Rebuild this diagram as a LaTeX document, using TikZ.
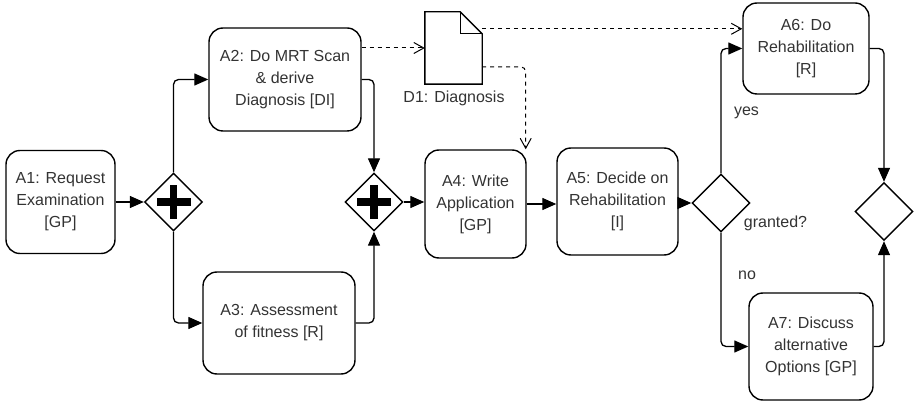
\documentclass[tikz,border=0pt]{standalone}
\usepackage{fontspec}
\setmainfont{Liberation Sans}
\usetikzlibrary{arrows.meta,shapes.geometric,calc}
\begin{document}
\begin{tikzpicture}[x=1pt,y=-1pt,
  task/.style={draw, line width=1.4pt, rounded corners=14pt, align=center, inner sep=0pt, text=black!80, font=\fontsize{16}{22}\selectfont},
  gw/.style={draw, diamond, line width=1.4pt, minimum width=58pt, minimum height=58pt, inner sep=0pt, aspect=1},
  flow/.style={line width=1.3pt, rounded corners=5pt, -{Triangle[length=14pt,width=12pt]}},
  assoc/.style={line width=1pt, dash pattern=on 4pt off 4pt, rounded corners=5pt, -{Straight Barb[length=10pt,width=11pt]}},
  lbl/.style={text=black!80, font=\fontsize{16}{20}\selectfont, inner sep=0pt},
  docline/.style={line width=1.4pt}
]
\useasboundingbox (0,0) rectangle (916,403);

% tasks
\node[task, minimum width=109pt, minimum height=103pt] (A1) at (60.5,202) {A1: Request\\Examination\\{[GP]}};
\node[task, minimum width=152pt, minimum height=103pt] (A2) at (285,79.5) {A2: Do MRT Scan\\\& derive\\Diagnosis [DI]};
\node[task, minimum width=152pt, minimum height=102pt] (A3) at (279,323) {A3: Assessment\\of fitness [R]};
\node[task, minimum width=101pt, minimum height=108pt] (A4) at (475.5,204) {A4: Write\\Application\\{[GP]}};
\node[task, minimum width=121pt, minimum height=107pt] (A5) at (617.5,201.5) {A5: Decide on\\Rehabilitation\\{[I]}};
\node[task, minimum width=126pt, minimum height=91pt] (A6) at (806,48.5) {A6: Do\\Rehabilitation\\{[R]}};
\node[task, minimum width=124pt, minimum height=107pt] (A7) at (811,346.5) {A7: Discuss\\alternative\\Options [GP]};

% gateways
\node[gw] (G1) at (173.5,202) {};
\node[gw] (G2) at (374,202) {};
\node[gw] (G3) at (721,203) {};
\node[gw] (G4) at (884,211.5) {};
\foreach \g in {G1,G2} {
  \fill (\g) ++(-17,-3.75) rectangle ++(34,7.5);
  \fill (\g) ++(-3.75,-17) rectangle ++(7.5,34);
}

% data object
\node[minimum width=57pt, minimum height=72pt, inner sep=0pt] (D1) at (453.5,48) {};
\draw[docline] (D1.north west) -- ($(D1.north east)+(-22,0)$) -- ($(D1.north east)+(0,22)$) -- (D1.south east) -- (D1.south west) -- cycle;
\draw[line width=1.2pt] ($(D1.north east)+(-22,0)$) -- ($(D1.north east)+(-22,22)$) -- ($(D1.north east)+(0,22)$);
\node[lbl] (D1L) at (454,98) {D1: Diagnosis};

% sequence flows
\draw[flow] (A1.east) -- (G1.west);
\draw[flow] (G1.north) |- (A2.west);
\draw[flow] (G1.south) |- (A3.west);
\draw[flow] (A2.east) -| (G2.north);
\draw[flow] (A3.east) -| (G2.south);
\draw[flow] (G2.east) -- (G2.east -| A4.west);
\draw[flow] (A4.east) -- (A4.east -| A5.west);
\draw[flow] (A5.east |- G3.west) -- (G3.west);
\draw[flow] (G3.north) |- (A6.west);
\draw[flow] (G3.south) |- (A7.west);
\draw[flow] (A6.east) -| (G4.north);
\draw[flow] (A7.east) -| (G4.south);

% associations
\draw[assoc] (A2.east |- D1.west) -- (D1.west);
\coordinate (D1a) at ($(D1.north east)+(0,17)$);
\draw[assoc] (D1a) -- (D1a -| A6.west);
\coordinate (D1b) at ($(D1.north east)+(0,55)$);
\coordinate (A4t) at ($(A4.north east)+(-1,0)$);
\draw[assoc] (D1b) -| (A4t);

% labels
\node[lbl] (yesL) at (746.5,113) {yes};
\node[lbl] (grantedL) at (775.5,223) {granted?};
\node[lbl] (noL) at (747,275) {no};
\end{tikzpicture}
\end{document}
